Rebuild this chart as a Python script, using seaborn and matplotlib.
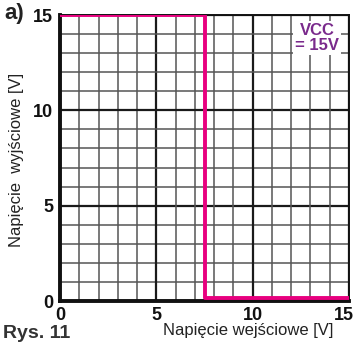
import matplotlib
matplotlib.use("Agg")
import matplotlib.pyplot as plt
import matplotlib.transforms as mtransforms
import seaborn as sns
import pandas as pd
import numpy as np

sns.set_theme(style="white")
plt.rcParams['font.family'] = ['Liberation Sans', 'DejaVu Sans']

v_in = [0, 7.5, 7.5, 15]
v_out = [15, 15, 0.15, 0.15]
ticks = [0, 5, 10, 15]
tick_labels = ["0", "5", "10", "15"]

df = pd.DataFrame({"vin": v_in, "vout": v_out})

fig = plt.figure(figsize=(3.54, 3.43), dpi=100)
ax = fig.add_axes([60/354, 1-301/343, 289/354, 286/343])

# grid
for v in range(16):
    major = v % 5 == 0
    ax.axvline(v, color="#1a1a1a" if major else "#555555", lw=1.6 if major else 1.1, zorder=1)
    ax.axhline(v, color="#1a1a1a" if major else "#555555", lw=1.6 if major else 1.1, zorder=1)

sns.lineplot(data=df, x="vin", y="vout", ax=ax, color="#e8007f", lw=2.8,
             sort=False, estimator=None, zorder=3)

ax.set_xlim(0, 15)
ax.set_ylim(0, 15)
ax.set_xticks(ticks)
ax.set_xticklabels(tick_labels, fontweight="bold", fontsize=13, color="#111111")
ax.set_yticks(ticks)
ax.set_yticklabels(tick_labels, fontweight="bold", fontsize=13, color="#111111")
ax.tick_params(length=0)
ax.tick_params(axis="y", pad=5)
ax.tick_params(axis="x", pad=4)
# nudge the last x tick label so it stays inside the figure
last = ax.get_xticklabels()[-1]
last.set_transform(last.get_transform() + mtransforms.ScaledTranslation(-5/100, 0, fig.dpi_scale_trans))
ax.set_xlabel("")
ax.set_ylabel("")
for s in ["left", "bottom"]:
    ax.spines[s].set_linewidth(2.8)
    ax.spines[s].set_color("#111111")
for s in ["top", "right"]:
    ax.spines[s].set_linewidth(1.4)
    ax.spines[s].set_color("#111111")

ax.text(13.35, 13.8, "VCC\n= 15V", color="#7a2a8c", fontweight="bold", fontsize=12,
        ha="center", va="center", linespacing=0.95, zorder=4,
        bbox=dict(facecolor="white", edgecolor="none", pad=1.5))

fig.text(248/354, 1-330/343, "Napięcie wejściowe [V]", ha="center", va="center", fontsize=12, color="#222222")
fig.text(17/354, 1-160/343, "Napięcie  wyjściowe [V]", ha="center", va="center", rotation=90, fontsize=12, color="#222222")
fig.text(4/354, 1-14/343, "a)", ha="left", va="center", fontsize=16, fontweight="bold", color="#222222")
fig.text(3/354, 1-333/343, "Rys. 11", ha="left", va="center", fontsize=14, fontweight="bold", color="#333333")

fig.savefig("out.png", dpi=100)
